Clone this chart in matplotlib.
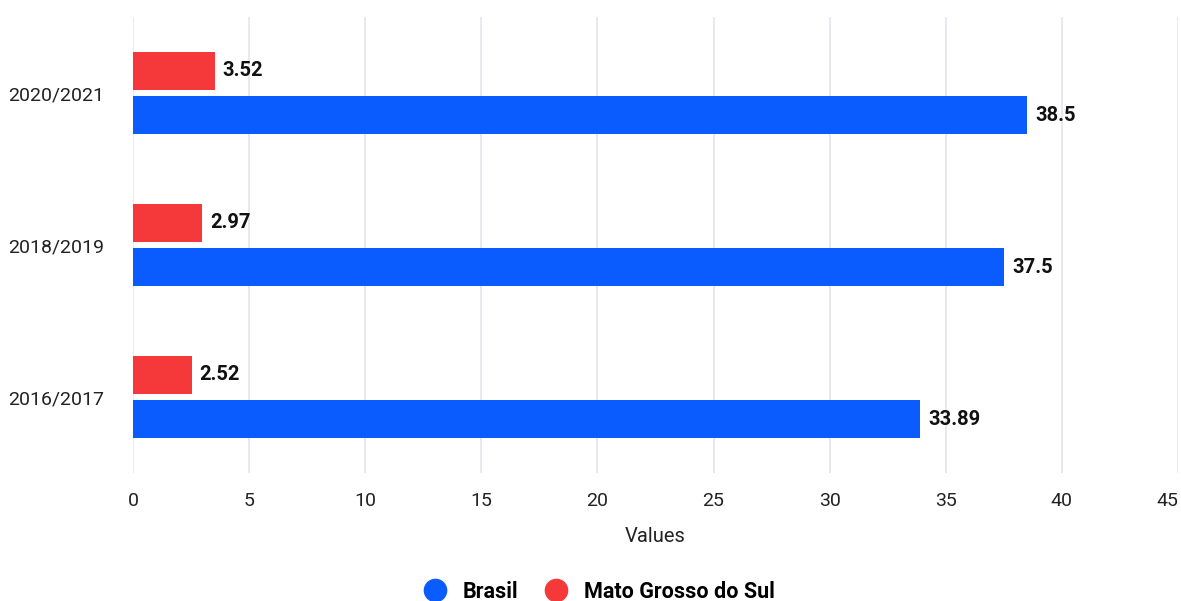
import numpy as np
from matplotlib import pyplot as plt
from matplotlib.lines import Line2D

seasons = ['2016/2017', '2018/2019', '2020/2021']
brasil = [33.89, 37.5, 38.5]
ms = [2.52, 2.97, 3.52]

blue = '#0a5cff'
red = '#f5393b'
grid_col = '#e2e3e9'

plt.rcParams['font.family'] = ['Roboto', 'DejaVu Sans']

fig = plt.figure(figsize=(11.81, 6.01), dpi=100)
ax = fig.add_axes([133 / 1181, 1 - 473 / 601, (1178 - 133) / 1181, (473 - 17) / 601])

y = np.arange(len(seasons))
h = 0.246
off = 0.146
ax.barh(y - off, brasil, height=h, color=blue, zorder=3)
ax.barh(y + off, ms, height=h, color=red, zorder=3)

for yi, v in zip(y, brasil):
    ax.text(v + 0.35, yi - off, '{:g}'.format(v), va='center', ha='left',
            fontsize=14.5, fontweight='bold', color='#111111')
for yi, v in zip(y, ms):
    ax.text(v + 0.35, yi + off, '{:g}'.format(v), va='center', ha='left',
            fontsize=14.5, fontweight='bold', color='#111111')

ax.set_xlim(0, 45)
ax.set_ylim(-0.5, 2.5)
ax.set_xticks(np.arange(0, 46, 5))
ax.set_yticks(y)
ax.set_yticklabels(seasons)
ax.tick_params(axis='both', length=0, labelsize=14, colors='#222222')
ax.tick_params(axis='x', pad=14)
ax.tick_params(axis='y', pad=21)
# last tick label would run off the right edge
ax.get_xticklabels()[-1].set_horizontalalignment('right')
ax.grid(axis='x', color=grid_col, linewidth=1.1, zorder=0)
for s in ax.spines.values():
    s.set_visible(False)
ax.set_xlabel('Values', fontsize=14.5, color='#222222', labelpad=12)

handles = [Line2D([], [], marker='o', linestyle='', markersize=16, color=blue),
           Line2D([], [], marker='o', linestyle='', markersize=16, color=red)]
leg = fig.legend(handles, ['Brasil', 'Mato Grosso do Sul'], loc='center',
                 bbox_to_anchor=(594 / 1181, 1 - 592 / 601), ncol=2, frameon=False,
                 prop={'size': 15.5, 'weight': 'bold'}, handletextpad=0.3,
                 columnspacing=0.75, borderpad=0)

fig.savefig('out.png', dpi=100)
